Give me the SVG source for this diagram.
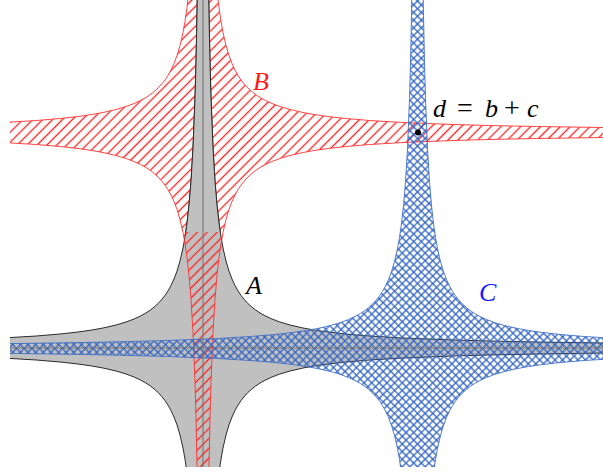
<svg xmlns="http://www.w3.org/2000/svg" xmlns:xlink="http://www.w3.org/1999/xlink" width="603" height="472" viewBox="0 0 603 472">
<style>
.lbl{font-family:"Liberation Serif","DejaVu Serif",serif;font-style:italic;font-size:26px}
.up{font-style:normal;font-size:28px}
.shA{fill:#c0c0c0;stroke:#2a2a2a;stroke-width:1}
.shB{fill:url(#hatchB);stroke:#ff3030;stroke-width:0.9}
.shC{fill:url(#hatchC);stroke:#3f6fc6;stroke-width:0.9}
.axis{stroke:#707070;stroke-width:1;fill:none}
</style>
<defs>
<path id="star" d="M2.9,-689.7 L3.5,-571.4 4,-500 5,-400 6,-333.3 7,-285.7 8,-250 10,-200 12,-166.7 14,-142.9 16,-125 18,-111.1 20,-100 23,-87 26,-76.9 29,-69 32,-62.5 35,-57.1 38,-52.6 41,-48.8 44.7,-44.7 48.8,-41 52.6,-38 57.1,-35 62.5,-32 69,-29 76.9,-26 87,-23 100,-20 111.1,-18 125,-16 142.9,-14 166.7,-12 200,-10 250,-8 285.7,-7 333.3,-6 400,-5 500,-4 571.4,-3.5 689.7,-2.9 L689.7,2.9 571.4,3.5 500,4 400,5 333.3,6 285.7,7 250,8 200,10 166.7,12 142.9,14 125,16 111.1,18 100,20 87,23 76.9,26 69,29 62.5,32 57.1,35 52.6,38 48.8,41 44.7,44.7 41,48.8 38,52.6 35,57.1 32,62.5 29,69 26,76.9 23,87 20,100 18,111.1 16,125 14,142.9 12,166.7 10,200 8,250 7,285.7 6,333.3 5,400 4,500 3.5,571.4 2.9,689.7 L-2.9,689.7 -3.5,571.4 -4,500 -5,400 -6,333.3 -7,285.7 -8,250 -10,200 -12,166.7 -14,142.9 -16,125 -18,111.1 -20,100 -23,87 -26,76.9 -29,69 -32,62.5 -35,57.1 -38,52.6 -41,48.8 -44.7,44.7 -48.8,41 -52.6,38 -57.1,35 -62.5,32 -69,29 -76.9,26 -87,23 -100,20 -111.1,18 -125,16 -142.9,14 -166.7,12 -200,10 -250,8 -285.7,7 -333.3,6 -400,5 -500,4 -571.4,3.5 -689.7,2.9 L-689.7,-2.9 -571.4,-3.5 -500,-4 -400,-5 -333.3,-6 -285.7,-7 -250,-8 -200,-10 -166.7,-12 -142.9,-14 -125,-16 -111.1,-18 -100,-20 -87,-23 -76.9,-26 -69,-29 -62.5,-32 -57.1,-35 -52.6,-38 -48.8,-41 -44.7,-44.7 -41,-48.8 -38,-52.6 -35,-57.1 -32,-62.5 -29,-69 -26,-76.9 -23,-87 -20,-100 -18,-111.1 -16,-125 -14,-142.9 -12,-166.7 -10,-200 -8,-250 -7,-285.7 -6,-333.3 -5,-400 -4,-500 -3.5,-571.4 -2.9,-689.7 Z"/>
<pattern id="hatchB" width="7" height="7" patternUnits="userSpaceOnUse" patternTransform="rotate(45)">
<line x1="3.5" y1="-1" x2="3.5" y2="8" stroke="#ff2020" stroke-width="1.3"/>
</pattern>
<pattern id="hatchC" width="5.4" height="5.4" patternUnits="userSpaceOnUse" patternTransform="rotate(45)">
<line x1="2.7" y1="-1" x2="2.7" y2="6.4" stroke="#3163c2" stroke-width="1.3"/>
<line x1="-1" y1="2.7" x2="6.4" y2="2.7" stroke="#3163c2" stroke-width="1.3"/>
</pattern>
<clipPath id="frame"><rect x="10" y="0" width="600" height="467"/></clipPath>
<clipPath id="topPart"><rect x="10" y="0" width="600" height="232"/></clipPath>
</defs>
<g clip-path="url(#frame)">
<g id="node-A">
<use xlink:href="#star" href="#star" class="shA" transform="translate(203,348)"/>
</g>
<g id="node-B">
<use xlink:href="#star" href="#star" class="shB" transform="translate(203,132.5)"/>
</g>
<g id="node-C">
<use xlink:href="#star" href="#star" class="shC" transform="translate(417.5,348.5)"/>
</g>
<g id="node-A-top" clip-path="url(#topPart)">
<use xlink:href="#star" href="#star" class="shA" transform="translate(203,348)"/>
</g>
<g id="axes-A">
<line class="axis" x1="203" y1="0" x2="203" y2="467"/>
<line class="axis" x1="10" y1="348" x2="603" y2="348"/>
</g>
</g>
<g id="connectors"></g>
<g id="labels">
<text class="lbl" x="246" y="294" fill="#000">A</text>
<text class="lbl" x="253" y="90" fill="#ff1a1a">B</text>
<text class="lbl" x="479" y="301" fill="#1a1aff">C</text>
</g>
<g id="node-d">
<circle cx="418" cy="132.5" r="3" fill="#000"/>
<text class="lbl" y="117" fill="#000"><tspan x="433">d</tspan><tspan class="up" x="457">=</tspan><tspan x="485">b</tspan><tspan class="up" x="504">+</tspan><tspan x="527">c</tspan></text>
</g>
</svg>
